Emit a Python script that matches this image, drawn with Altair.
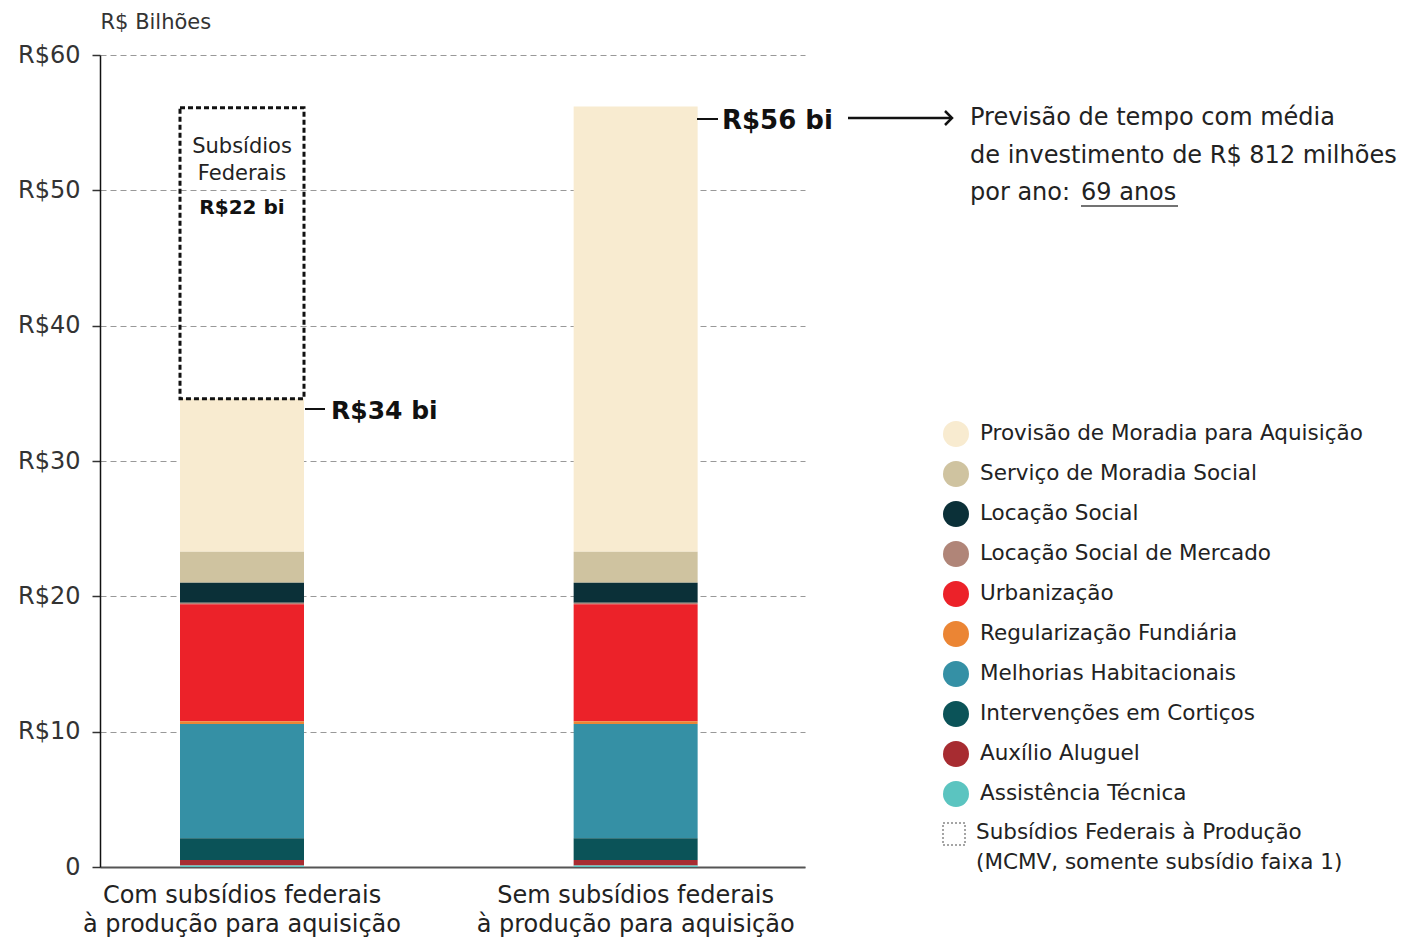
import altair as alt
import pandas as pd

# ---------------- data ----------------
categories = [
    "Com subsídios federais|à produção para aquisição",
    "Sem subsídios federais|à produção para aquisição",
]
components = [
    "Provisão de Moradia para Aquisição",
    "Serviço de Moradia Social",
    "Locação Social",
    "Locação Social de Mercado",
    "Urbanização",
    "Regularização Fundiária",
    "Melhorias Habitacionais",
    "Intervenções em Cortiços",
    "Auxílio Aluguel",
    "Assistência Técnica",
]
colors = ["#F8EBD0", "#CFC3A0", "#0B3038", "#B08578", "#EC2229",
          "#EB8534", "#3590A5", "#0B5358", "#A72C31", "#5BC4C0"]
values_com = [11.3, 2.3, 1.48, 0.1, 8.65, 0.2, 8.45, 1.6, 0.4, 0.12]
values_sem = [32.9, 2.3, 1.48, 0.1, 8.65, 0.2, 8.45, 1.6, 0.4, 0.12]
subsidy_low = [34.6]
subsidy_high = [56.1]
y_ticks = [0, 10, 20, 30, 40, 50, 60]

rows = []
for cat, vals in zip(categories, [values_com, values_sem]):
    for i, (comp, v) in enumerate(zip(components, vals)):
        rows.append({"categoria": cat, "componente": comp, "valor": v,
                     "ordem": len(components) - i})
df = pd.DataFrame(rows)
box_df = pd.DataFrame({"categoria": [categories[0]], "lo": subsidy_low, "hi": subsidy_high})

FONT = "DejaVu Sans"
x_scale = alt.Scale(domain=categories, paddingInner=0.685, paddingOuter=0.238, align=0.427)
y_scale = alt.Scale(domain=[0, 60], nice=False)

bars = alt.Chart(df).mark_bar().encode(
    x=alt.X("categoria:N", scale=x_scale, sort=categories,
            axis=alt.Axis(title=None, labelExpr="split(datum.label, '|')", labelAngle=0,
                          labelFontSize=24, labelLineHeight=29, labelColor="#222",
                          labelPadding=28, labelBaseline="middle", ticks=False,
                          labelLimit=0, domainColor="#555", domainWidth=2)),
    y=alt.Y("valor:Q", stack="zero", scale=y_scale,
            axis=alt.Axis(values=y_ticks,
                          labelExpr="datum.value == 0 ? '0' : 'R$' + datum.value",
                          title="R$ Bilhões", titleAngle=0, titleAlign="left",
                          titleBaseline="middle", titleX=0, titleY=-33,
                          titleFontSize=21, titleFontWeight="normal", titleColor="#333",
                          labelFontSize=24, labelColor="#333", labelPadding=12,
                          tickSize=8, tickColor="#333", tickWidth=1.5,
                          domainColor="#111", domainWidth=1.5,
                          grid=True, gridDash=[6, 4], gridColor="#999", gridWidth=1)),
    color=alt.Color("componente:N", scale=alt.Scale(domain=components, range=colors),
                    legend=alt.Legend(title=None, orient="none", legendX=843, legendY=366,
                                      symbolType="circle", symbolSize=676,
                                      symbolStrokeWidth=0, labelFontSize=21.5,
                                      labelColor="#222", labelOffset=11, labelLimit=0,
                                      rowPadding=14, padding=0)),
    order=alt.Order("ordem:Q", sort="ascending"),
)

box = alt.Chart(box_df).mark_bar(filled=False, stroke="#111", strokeWidth=3,
                                 strokeDash=[5, 3]).encode(
    x=alt.X("categoria:N", scale=x_scale),
    y=alt.Y("lo:Q", scale=y_scale),
    y2="hi:Q",
)

box_txt = alt.Chart(box_df).mark_text(fontSize=21, color="#222", lineHeight=27,
                                      baseline="middle", text=["Subsídios", "Federais"]).encode(
    x=alt.X("categoria:N", scale=x_scale), y=alt.value(92))
box_val = alt.Chart(box_df).mark_text(fontSize=20, fontWeight="bold", color="#111",
                                      baseline="middle", text="R$22 bi").encode(
    x=alt.X("categoria:N", scale=x_scale), y=alt.value(153))

anno = alt.Chart(pd.DataFrame({"a": [0]}))

dash34 = anno.mark_rule(color="#111", strokeWidth=2).encode(
    x=alt.value(205), x2=alt.value(225), y=alt.value(354))
txt34 = anno.mark_text(fontSize=25, fontWeight="bold", color="#111", align="left",
                       baseline="middle", text="R$34 bi").encode(x=alt.value(231), y=alt.value(356))
dash56 = anno.mark_rule(color="#111", strokeWidth=2).encode(
    x=alt.value(597), x2=alt.value(618), y=alt.value(64))
txt56 = anno.mark_text(fontSize=26, fontWeight="bold", color="#111", align="left",
                       baseline="middle", text="R$56 bi").encode(x=alt.value(622), y=alt.value(66))
arrow = anno.mark_rule(color="#111", strokeWidth=2.5).encode(
    x=alt.value(748), x2=alt.value(851), y=alt.value(63))
head = anno.mark_point(shape="M-1,-1L0,0L-1,1", filled=False, stroke="#111",
                       strokeWidth=2.5, size=196, opacity=1).encode(
    x=alt.value(852), y=alt.value(63))
prev = anno.mark_text(fontSize=24, color="#222", align="left", baseline="middle",
                      lineHeight=38,
                      text=["Previsão de tempo com média",
                            "de investimento de R$ 812 milhões"]).encode(
    x=alt.value(870), y=alt.value(63))
prev3 = anno.mark_text(fontSize=24, color="#222", align="left", baseline="middle",
                       text="por ano:").encode(x=alt.value(870), y=alt.value(138))
prev4 = anno.mark_text(fontSize=24, color="#222", align="left", baseline="middle",
                       text="69 anos").encode(x=alt.value(981), y=alt.value(138))
underline = anno.mark_rule(color="#444", strokeWidth=1.5).encode(
    x=alt.value(981), x2=alt.value(1078), y=alt.value(151))

leg_sq = anno.mark_square(filled=False, stroke="#555", strokeWidth=1.5,
                          strokeDash=[2, 2], size=484).encode(
    x=alt.value(854), y=alt.value(779))
leg_txt = anno.mark_text(fontSize=21.5, color="#222", align="left", baseline="middle",
                         lineHeight=30,
                         text=["Subsídios Federais à Produção",
                               "(MCMV, somente subsídio faixa 1)"]).encode(
    x=alt.value(876), y=alt.value(778))

chart = alt.layer(
    bars, box, box_txt, box_val, dash34, txt34, dash56, txt56, arrow, head,
    prev, prev3, prev4, underline, leg_sq, leg_txt
).properties(
    width=705, height=812,
    autosize=alt.AutoSizeParams(type="none"),
    padding={"left": 92, "top": 47, "right": 604, "bottom": 70},
).configure(font=FONT).configure_view(stroke=None)

chart.save("out.html", embed_options={"renderer": "svg", "actions": False})
